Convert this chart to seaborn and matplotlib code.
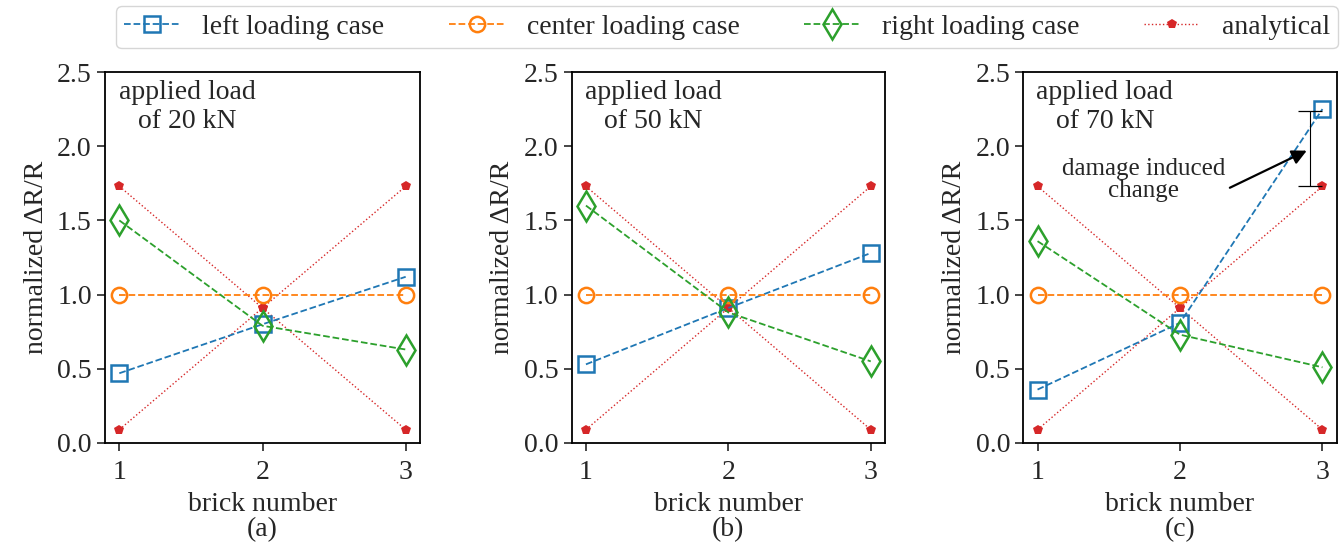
import matplotlib
matplotlib.use("Agg")
import matplotlib.pyplot as plt
import seaborn as sns
import pandas as pd

# brick positions and measured normalized resistance change
bricks = [1, 2, 3]
loads = ["20 kN", "50 kN", "70 kN"]
panel_tags = ["(a)", "(b)", "(c)"]

left_case = [
    [0.47, 0.80, 1.12],
    [0.53, 0.91, 1.28],
    [0.36, 0.81, 2.25],
]
center_case = [
    [1.00, 1.00, 1.00],
    [1.00, 1.00, 1.00],
    [1.00, 1.00, 1.00],
]
right_case = [
    [1.50, 0.79, 0.63],
    [1.60, 0.88, 0.55],
    [1.36, 0.73, 0.51],
]
# analytical predictions (same for every load)
analytical_left = [0.09, 0.91, 1.73]
analytical_right = [1.73, 0.91, 0.09]

# damage marker in panel (c)
damage_x = 2.91
damage_low = 1.73
damage_high = 2.24

sns.set_style("ticks")
plt.rcParams["font.family"] = ["Liberation Serif", "DejaVu Serif"]
plt.rcParams["font.size"] = 20

c_blue, c_orange, c_green, c_red = "#1f77b4", "#ff7f0e", "#2ca02c", "#d62728"

W, H = 1343, 544
fig = plt.figure(figsize=(W / 100, H / 100), dpi=100)
panel_boxes = [(105, 315), (571.7, 313.3), (1023.3, 313.4)]
axes = [fig.add_axes([x0 / W, (H - 443) / H, w / W, 371 / H]) for x0, w in panel_boxes]

for i, ax in enumerate(axes):
    df = pd.DataFrame({
        "brick": bricks,
        "left": left_case[i],
        "center": center_case[i],
        "right": right_case[i],
        "an_l": analytical_left,
        "an_r": analytical_right,
    })
    sns.lineplot(data=df, x="brick", y="an_l", ax=ax, color=c_red, linestyle=":",
                 linewidth=1.0, marker="p", markersize=7, markeredgewidth=0,
                 label="analytical" if i == 0 else None)
    sns.lineplot(data=df, x="brick", y="an_r", ax=ax, color=c_red, linestyle=":",
                 linewidth=1.0, marker="p", markersize=7, markeredgewidth=0)
    sns.lineplot(data=df, x="brick", y="left", ax=ax, color=c_blue, linestyle="--",
                 linewidth=1.3, marker="s", markersize=11.5, markerfacecolor="none",
                 markeredgecolor=c_blue, markeredgewidth=1.8,
                 label="left loading case" if i == 0 else None)
    sns.lineplot(data=df, x="brick", y="center", ax=ax, color=c_orange, linestyle="--",
                 linewidth=1.3, marker="o", markersize=11, markerfacecolor="none",
                 markeredgecolor=c_orange, markeredgewidth=1.8,
                 label="center loading case" if i == 0 else None)
    sns.lineplot(data=df, x="brick", y="right", ax=ax, color=c_green, linestyle="--",
                 linewidth=1.3, marker="d", markersize=15, markerfacecolor="none",
                 markeredgecolor=c_green, markeredgewidth=1.8,
                 label="right loading case" if i == 0 else None)

    ax.set_xlim(0.9, 3.1)
    ax.set_ylim(0.0, 2.5)
    ax.set_xticks(bricks)
    ax.set_yticks([0.0, 0.5, 1.0, 1.5, 2.0, 2.5])
    ax.set_yticklabels(["0.0", "0.5", "1.0", "1.5", "2.0", "2.5"])
    ax.tick_params(labelsize=20, length=6, width=1.2)
    ax.tick_params(axis="x", pad=6)
    ax.set_xlabel("brick number\n" + panel_tags[i], fontsize=20, linespacing=1.0,
                  labelpad=5)
    ax.set_ylabel("normalized ΔR/R", fontsize=20, labelpad=6)
    for sp in ax.spines.values():
        sp.set_visible(True)
        sp.set_linewidth(1.3)
        sp.set_color("black")
    ax.text(0.26, 0.978, "applied load\nof " + loads[i], transform=ax.transAxes,
            ha="center", va="top", fontsize=20, linespacing=1.2)
    leg = ax.get_legend()
    if leg is not None:
        leg.remove()

# damage-induced change indicator
ax = axes[2]
ax.errorbar([damage_x], [(damage_low + damage_high) / 2],
            yerr=[[(damage_high - damage_low) / 2]], color="black",
            linewidth=0.8, capsize=8.5, capthick=0.9, fmt="none")
ax.text(1.743, 1.77, "damage induced\nchange", ha="center", va="center",
        fontsize=18, linespacing=1.0)
ax.annotate("", xy=(2.89, 1.97), xytext=(2.35, 1.72),
            arrowprops=dict(arrowstyle="-|>", color="black", lw=1.6,
                            mutation_scale=22, shrinkA=0, shrinkB=0))

handles, labels = axes[0].get_legend_handles_labels()
order = [labels.index(l) for l in ["left loading case", "center loading case",
                                   "right loading case", "analytical"]]
fig.legend([handles[k] for k in order], [labels[k] for k in order],
           loc="center", ncol=4, mode="expand",
           bbox_to_anchor=(116 / W, 1 - 50 / H, (1338 - 116) / W, 46 / H),
           fontsize=20, frameon=True, fancybox=True, handlelength=2.0,
           borderaxespad=0.0, borderpad=0.3)

fig.savefig("out.png", dpi=100)
